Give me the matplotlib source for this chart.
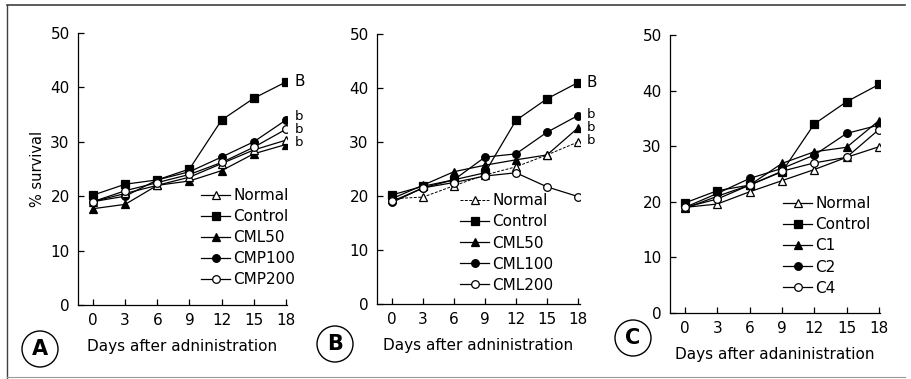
import matplotlib.pyplot as plt
from matplotlib.patches import Circle
from matplotlib.lines import Line2D

days = [0, 3, 6, 9, 12, 15, 18]

# panel A
a_names = ["Normal", "Control", "CML50", "CMP100", "CMP200"]
a_normal = [19.0, 20.5, 22.0, 23.5, 26.0, 28.5, 30.3]
a_control = [20.2, 22.2, 23.0, 25.0, 34.0, 38.0, 41.0]
a_cml50 = [17.7, 18.5, 22.0, 22.8, 24.7, 27.8, 29.5]
a_cmp100 = [19.0, 20.0, 23.0, 24.5, 27.2, 30.0, 34.0]
a_cmp200 = [19.0, 21.0, 22.5, 24.0, 26.2, 29.0, 32.3]
a_letters = ["B", "b", "b", "b"]
a_letter_y = [41.0, 34.7, 32.3, 29.9]

# panel B
b_names = ["Normal", "Control", "CML50", "CML100", "CML200"]
b_normal = [19.5, 19.8, 21.9, 23.9, 25.4, 27.6, 30.0]
b_control = [20.2, 21.8, 23.0, 24.3, 34.0, 38.0, 41.0]
b_cml50 = [19.5, 22.0, 24.5, 25.7, 26.7, 27.6, 32.6]
b_cml100 = [18.8, 21.5, 23.0, 27.2, 27.8, 31.8, 34.9]
b_cml200 = [19.0, 21.5, 22.5, 23.7, 24.3, 21.7, 19.9]
b_letters = ["B", "b", "b", "b"]
b_letter_y = [41.0, 35.0, 32.6, 30.2]

# panel C
c_names = ["Normal", "Control", "C1", "C2", "C4"]
c_normal = [19.0, 19.6, 21.8, 23.8, 25.8, 28.0, 29.9]
c_control = [19.8, 22.0, 23.0, 25.4, 34.0, 38.0, 41.1]
c_c1 = [18.8, 21.0, 23.0, 26.9, 29.0, 29.8, 34.6]
c_c2 = [19.0, 21.5, 24.2, 26.0, 28.4, 32.3, 33.8]
c_c4 = [19.0, 20.5, 23.0, 25.5, 27.0, 28.0, 33.0]

styles = [("^", "white"), ("s", "black"), ("^", "black"), ("o", "black"), ("o", "white")]

plt.rcParams['font.family'] = "DejaVu Sans"

fig = plt.figure(figsize=(9.12, 3.79), dpi=100)

# axes boxes worked out from the pixel positions of the axes in the scan
panels = [
    dict(rect=[78/912, 1-305/379, 209/912, 272/379], xlim=(-1.4, 18.1),
         series=[a_normal, a_control, a_cml50, a_cmp100, a_cmp200], names=a_names,
         letters=a_letters, letter_y=a_letter_y,
         xlabel="Days after adninistration", leg=(0.59, 0.43)),
    dict(rect=[377/912, 1-304/379, 203/912, 270/379], xlim=(-1.45, 18.2),
         series=[b_normal, b_control, b_cml50, b_cml100, b_cml200], names=b_names,
         letters=b_letters, letter_y=b_letter_y,
         xlabel="Days after adninistration", leg=(0.41, 0.41)),
    dict(rect=[670/912, 1-313/379, 210/912, 278/379], xlim=(-1.39, 18.1),
         series=[c_normal, c_control, c_c1, c_c2, c_c4], names=c_names,
         letters=None, letter_y=None,
         xlabel="Days after adaninistration", leg=(0.54, 0.42)),
]

for i, p in enumerate(panels):
    ax = fig.add_axes(p["rect"])
    for j, (vals, name) in enumerate(zip(p["series"], p["names"])):
        m, fc = styles[j]
        if i == 1 and j == 0:
            ls, lw = (0, (3, 1.5)), 0.7
        else:
            ls, lw = "-", 0.9
        ax.plot(days, vals, color="black", lw=lw, ls=ls, marker=m,
                ms=6 if m == "s" else 5.5, mfc=fc, mec="black", mew=0.9,
                label=name, zorder=3 + (fc == "white"))
    ax.set_xlim(*p["xlim"])
    ax.set_ylim(0, 50)
    ax.set_xticks(days)
    ax.set_yticks([0, 10, 20, 30, 40, 50])
    ax.spines["top"].set_visible(False)
    ax.spines["right"].set_visible(False)
    for s in ("left", "bottom"):
        ax.spines[s].set_linewidth(0.9)
    ax.tick_params(direction="in", length=4, width=0.9, labelsize=11, pad=6)
    ax.set_xlabel(p["xlabel"], fontsize=11, labelpad=8)
    if i == 0:
        ax.set_ylabel("% survival", fontsize=10.5, labelpad=4)
    ax.legend(loc="upper left", bbox_to_anchor=p["leg"], frameon=False, fontsize=11,
              handlelength=1.9, handletextpad=0.2, labelspacing=0.4, borderaxespad=0,
              borderpad=0)
    if p["letters"]:
        for lt, ly in zip(p["letters"], p["letter_y"]):
            ax.annotate(lt, (18, ly), xytext=(6, 0), textcoords="offset points",
                        va="center", ha="left", fontsize=11 if lt == "B" else 9.5,
                        annotation_clip=False)

# circled panel tags
tags = [("A", 40, 349), ("B", 335, 344), ("C", 633, 338)]
for t, x, y in tags:
    fig.patches.append(Circle((x, 379 - y), 18, transform=None, fill=False, ec="black", lw=1.0))
    fig.text(x/912, 1 - y/379, t, ha="center", va="center", fontsize=15, fontweight="bold")

# outer frame of the scanned figure
fig.add_artist(Line2D([7/912, 905/912], [1-5/379, 1-5/379], color="0.25", lw=1.2))
fig.add_artist(Line2D([7/912, 7/912], [1-5/379, 1-378/379], color="0.25", lw=1.0))
fig.add_artist(Line2D([7/912, 905/912], [1-377/379, 1-377/379], color="0.6", lw=0.8))

fig.savefig("out.png", dpi=100)
